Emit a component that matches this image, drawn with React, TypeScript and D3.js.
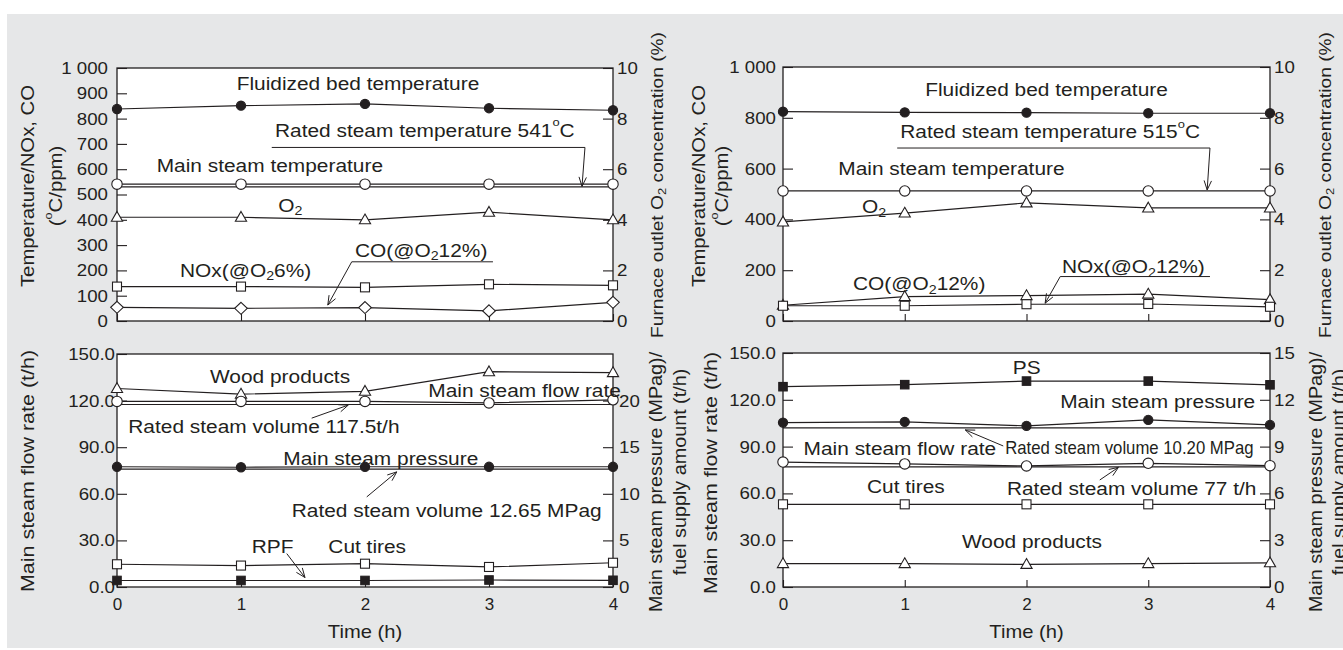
import React, { useRef, useEffect } from 'react';
import * as d3 from 'd3';

const INK = '#231f20';
const FONT = '"Liberation Sans", Arial, Helvetica, sans-serif';

const hours = [0, 1, 2, 3, 4];

// upper left: temperatures (degC), NOx/CO (ppm), O2 (%)
const tlBedTemp = [838, 851, 858, 841, 833];
const tlMainSteamTemp = [541, 541, 541, 541, 541];
const tlRatedSteamTemp = 530;
const tlO2 = [4.1, 4.1, 4.0, 4.3, 4.0];
const tlNOx = [136, 136, 133, 145, 141];
const tlCO = [54, 50, 53, 40, 74];

// upper right
const trBedTemp = [824, 821, 820, 818, 818];
const trMainSteamTemp = [512, 512, 512, 512, 512];
const trO2 = [3.9, 4.25, 4.65, 4.45, 4.45];
const trCO = [62, 96, 100, 106, 84];
const trNOx = [60, 60, 66, 67, 56];

// lower left: flow (t/h) on left axis, pressure (MPag) / fuel (t/h) on right axis
const blWood = [21.3, 20.7, 21.0, 23.1, 23.0];
const blFlow = [119.5, 119.5, 119.5, 118.5, 120.5];
const blRatedFlow = 117.5;
const blPressure = [12.9, 12.85, 12.9, 12.9, 12.9];
const blRatedPressure = 12.65;
const blCutTires = [2.44, 2.3, 2.5, 2.15, 2.6];
const blRPF = [0.7, 0.7, 0.7, 0.75, 0.72];

// lower right
const brPS = [12.84, 12.97, 13.2, 13.2, 12.96];
const brPressure = [10.54, 10.58, 10.33, 10.71, 10.39];
const brRatedPressure = 10.2;
const brFlow = [80.1, 78.9, 77.6, 79.3, 77.8];
const brRatedFlow = 77;
const brCutTires = [5.3, 5.3, 5.3, 5.3, 5.3];
const brWood = [1.5, 1.5, 1.45, 1.5, 1.55];

const fmtThousand = (v) => (v === 1000 ? '1 000' : String(v));
const fmtOne = d3.format('.1f');

const panels = [
  {
    box: { left: 117, right: 613, top: 68, bottom: 321 },
    leftMax: 1000, leftStep: 100, leftFmt: fmtThousand, leftPad: 9,
    rightMax: 10, rightStep: 2, rightLabelMax: 10, rightPad: 4,
    xLabels: false,
    refs: [{ value: tlRatedSteamTemp, axis: 'L' }],
    series: [
      { values: tlBedTemp, axis: 'L', marker: 'filledCircle' },
      { values: tlMainSteamTemp, axis: 'L', marker: 'openCircle' },
      { values: tlO2, axis: 'R', marker: 'openTriangle' },
      { values: tlNOx, axis: 'L', marker: 'openSquare' },
      { values: tlCO, axis: 'L', marker: 'openDiamond' },
    ],
    notes: [
      { text: 'Fluidized bed temperature', h: 0.965, v: 939 },
      { text: 'Rated steam temperature 541^{o}C', h: 1.274, v: 755 },
      { text: 'Main steam temperature', h: 0.32, v: 616 },
      { text: 'O_{2}', h: 1.3, v: 458 },
      { text: 'NOx(@O_{2}6%)', h: 0.508, v: 201 },
      { text: 'CO(@O_{2}12%)', h: 1.919, v: 280 },
    ],
    leaders: [
      [[1.248, 686], [3.774, 686], [3.75, 532]],
      [[3.032, 234], [1.893, 234], [1.7, 63]],
    ],
  },
  {
    box: { left: 783, right: 1270, top: 67, bottom: 321 },
    leftMax: 1000, leftStep: 200, leftFmt: fmtThousand, leftPad: 7,
    rightMax: 10, rightStep: 2, rightLabelMax: 10, rightPad: 4,
    xLabels: false,
    refs: [],
    series: [
      { values: trBedTemp, axis: 'L', marker: 'filledCircle' },
      { values: trMainSteamTemp, axis: 'L', marker: 'openCircle' },
      { values: trO2, axis: 'R', marker: 'openTriangle' },
      { values: trCO, axis: 'L', marker: 'openTriangle' },
      { values: trNOx, axis: 'L', marker: 'openSquare' },
    ],
    notes: [
      { text: 'Fluidized bed temperature', h: 1.168, v: 910 },
      { text: 'Rated steam temperature 515^{o}C', h: 0.963, v: 746 },
      { text: 'Main steam temperature', h: 0.454, v: 602 },
      { text: 'O_{2}', h: 0.649, v: 450 },
      { text: 'CO(@O_{2}12%)', h: 0.575, v: 148 },
      { text: 'NOx(@O_{2}12%)', h: 2.291, v: 214 },
    ],
    leaders: [
      [[0.938, 681], [3.507, 681], [3.484, 516]],
      [[3.507, 175], [2.277, 175], [2.153, 70]],
    ],
  },
  {
    box: { left: 117, right: 613, top: 354, bottom: 587 },
    leftMax: 150, leftStep: 30, leftFmt: fmtOne, leftPad: 2,
    rightMax: 25, rightStep: 5, rightLabelMax: 20, rightPad: 6,
    xLabels: true,
    refs: [{ value: blRatedFlow, axis: 'L' }, { value: blRatedPressure, axis: 'R' }],
    series: [
      { values: blWood, axis: 'R', marker: 'openTriangle' },
      { values: blFlow, axis: 'L', marker: 'openCircle' },
      { values: blPressure, axis: 'R', marker: 'filledCircle' },
      { values: blCutTires, axis: 'R', marker: 'openSquare' },
      { values: blRPF, axis: 'R', marker: 'filledSquare' },
    ],
    notes: [
      { text: 'Wood products', h: 0.75, v: 135.4 },
      { text: 'Main steam flow rate', h: 2.51, v: 126.8 },
      { text: 'Rated steam volume 117.5t/h', h: 0.091, v: 103.1 },
      { text: 'Main steam pressure', h: 1.341, v: 82.8 },
      { text: 'Rated steam volume 12.65 MPag', h: 1.409, v: 49.4 },
      { text: 'RPF', h: 1.086, v: 25.8 },
      { text: 'Cut tires', h: 1.704, v: 25.8 },
    ],
    leaders: [
      [[1.57, 108.7], [1.865, 117.1]],
      [[2.014, 58], [2.256, 74.1]],
      [[1.369, 21.5], [1.516, 6.1]],
    ],
  },
  {
    box: { left: 783, right: 1270, top: 353, bottom: 587 },
    leftMax: 150, leftStep: 30, leftFmt: fmtOne, leftPad: 7,
    rightMax: 15, rightStep: 3, rightLabelMax: 15, rightPad: 4,
    xLabels: true,
    refs: [{ value: brRatedPressure, axis: 'R' }, { value: brRatedFlow, axis: 'L' }],
    series: [
      { values: brPS, axis: 'R', marker: 'filledSquare' },
      { values: brPressure, axis: 'R', marker: 'filledCircle' },
      { values: brFlow, axis: 'L', marker: 'openCircle' },
      { values: brCutTires, axis: 'R', marker: 'openSquare' },
      { values: brWood, axis: 'R', marker: 'openTriangle' },
    ],
    notes: [
      { text: 'PS', h: 1.888, v: 141 },
      { text: 'Main steam pressure', h: 2.277, v: 118.9 },
      { text: 'Main steam flow rate', h: 0.169, v: 89 },
      { text: 'Rated steam volume 10.20 MPag', h: 1.825, v: 89, size: 18, sx: 0.93 },
      { text: 'Cut tires', h: 0.69, v: 64.3 },
      { text: 'Rated steam volume 77 t/h', h: 1.839, v: 63.3 },
      { text: 'Wood products', h: 1.47, v: 28.9 },
    ],
    leaders: [
      [[1.809, 90.4], [1.497, 100.7]],
      [[2.602, 68.6], [2.755, 76.7]],
    ],
  },
];

// axis titles: [text, x, y, size, rotated]
const titles = [
  ['Temperature/NOx, CO', 27, 186, 18],
  ['(^{o}C/ppm)', 55.5, 186, 18],
  ['Furnace outlet O_{2} concentration (%)', 657, 185, 17],
  ['Temperature/NOx, CO', 698, 186, 18],
  ['(^{o}C/ppm)', 721.5, 186, 18],
  ['Furnace outlet O_{2} concentration (%)', 1325, 185, 17],
  ['Main steam flow rate (t/h)', 27, 471, 19],
  ['Main steam pressure (MPag)/', 655, 482, 17.5],
  ['fuel supply amount (t/h)', 679.5, 472, 17.5],
  ['Main steam flow rate (t/h)', 710, 473, 19],
  ['Main steam pressure (MPag)/', 1315, 482, 17.5],
  ['fuel supply amount (t/h)', 1338, 472, 17.5],
];

// write text with _{sub} and ^{sup} parts
function rich(sel, str, size) {
  const tokens = str.split(/(_\{[^}]*\}|\^\{[^}]*\})/).filter(Boolean);
  let back = 0;
  tokens.forEach((tok) => {
    if (tok.startsWith('_{')) {
      sel.append('tspan').attr('font-size', size * 0.68).attr('dy', size * 0.3).text(tok.slice(2, -1));
      back = -size * 0.3;
    } else if (tok.startsWith('^{')) {
      sel.append('tspan').attr('font-size', size * 0.62).attr('dy', -size * 0.42).text(tok.slice(2, -1));
      back = size * 0.42;
    } else {
      const t = sel.append('tspan').text(tok);
      if (back) t.attr('dy', back);
      back = 0;
    }
  });
}

function drawMarker(g, type, cx, cy) {
  const open = type.startsWith('open');
  const fill = open ? '#fff' : INK;
  let el;
  if (type.endsWith('Circle')) {
    el = g.append('circle').attr('cx', cx).attr('cy', cy).attr('r', open ? 5.2 : 4.6);
  } else if (type.endsWith('Square')) {
    const s = open ? 9 : 8.5;
    el = g.append('rect').attr('x', cx - s / 2).attr('y', cy - s / 2).attr('width', s).attr('height', s);
  } else if (type.endsWith('Triangle')) {
    el = g.append('path').attr('d', `M${cx},${cy - 5.8}L${cx + 5.6},${cy + 4}L${cx - 5.6},${cy + 4}Z`);
  } else {
    el = g.append('path').attr('d', `M${cx},${cy - 6}L${cx + 6.3},${cy}L${cx},${cy + 6}L${cx - 6.3},${cy}Z`);
  }
  el.attr('fill', fill).attr('stroke', INK).attr('stroke-width', 1.1);
}

function drawPanel(svg, p) {
  const { left, right, top, bottom } = p.box;
  const x = d3.scaleLinear().domain([0, 4]).range([left, right]);
  const yL = d3.scaleLinear().domain([0, p.leftMax]).range([bottom, top]);
  const yR = d3.scaleLinear().domain([0, p.rightMax]).range([bottom, top]);
  const yOf = (axis) => (axis === 'R' ? yR : yL);

  const g = svg.append('g');
  g.append('rect')
    .attr('x', left).attr('y', top)
    .attr('width', right - left).attr('height', bottom - top)
    .attr('fill', '#fff');

  const styleAxis = (a, anchor) => {
    a.select('.domain').remove();
    a.attr('font-family', FONT).attr('font-size', 17);
    a.selectAll('line').attr('stroke', INK).attr('stroke-width', 1.1);
    a.selectAll('text').attr('fill', INK).attr('transform', 'scale(1.1,1)');
    if (anchor) a.selectAll('text').attr('text-anchor', anchor);
  };

  // Add left axis (ticks point inward)
  g.append('g')
    .attr('transform', `translate(${left},0)`)
    .call(d3.axisLeft(yL).tickValues(d3.range(0, p.leftMax + 1e-9, p.leftStep))
      .tickSizeInner(-10).tickSizeOuter(0).tickPadding(p.leftPad / 1.1).tickFormat(p.leftFmt))
    .call((a) => styleAxis(a));

  // Add right axis
  g.append('g')
    .attr('transform', `translate(${right},0)`)
    .call(d3.axisRight(yR).tickValues(d3.range(0, p.rightLabelMax + 1e-9, p.rightStep))
      .tickSizeInner(-10).tickSizeOuter(0).tickPadding(p.rightPad / 1.1).tickFormat(d3.format('d')))
    .call((a) => styleAxis(a));

  // Add x-axis
  g.append('g')
    .attr('transform', `translate(0,${bottom})`)
    .call(d3.axisBottom(x).tickValues(hours).tickSizeInner(-7).tickSizeOuter(0).tickPadding(11)
      .tickFormat(p.xLabels ? d3.format('d') : () => ''))
    .call((a) => styleAxis(a, 'middle'))
    .call((a) => a.selectAll('text').attr('transform', null));

  // frame
  g.append('rect')
    .attr('x', left).attr('y', top)
    .attr('width', right - left).attr('height', bottom - top)
    .attr('fill', 'none').attr('stroke', INK).attr('stroke-width', 1.3);

  // rated reference lines
  p.refs.forEach((r) => {
    const yy = yOf(r.axis)(r.value);
    g.append('line').attr('x1', left).attr('x2', right).attr('y1', yy).attr('y2', yy)
      .attr('stroke', INK).attr('stroke-width', 1.2);
  });

  // series lines, then markers on top
  const line = d3.line();
  p.series.forEach((s) => {
    const y = yOf(s.axis);
    g.append('path')
      .attr('d', line(s.values.map((v, i) => [x(hours[i]), y(v)])))
      .attr('fill', 'none').attr('stroke', INK).attr('stroke-width', 1.2);
  });
  p.series.forEach((s) => {
    const y = yOf(s.axis);
    s.values.forEach((v, i) => drawMarker(g, s.marker, x(hours[i]), y(v)));
  });

  // leader lines with open arrow heads
  p.leaders.forEach((pts) => {
    const px = pts.map(([h, v]) => [x(h), yL(v)]);
    g.append('path').attr('d', line(px)).attr('fill', 'none').attr('stroke', INK).attr('stroke-width', 1);
    const [x1, y1] = px[px.length - 2];
    const [x2, y2] = px[px.length - 1];
    const ang = Math.atan2(y2 - y1, x2 - x1);
    [-0.38, 0.38].forEach((d) => {
      g.append('line')
        .attr('x1', x2).attr('y1', y2)
        .attr('x2', x2 - 10 * Math.cos(ang + d)).attr('y2', y2 - 10 * Math.sin(ang + d))
        .attr('stroke', INK).attr('stroke-width', 1);
    });
  });

  // annotations
  p.notes.forEach((n) => {
    const size = n.size || 18.5;
    const t = g.append('text')
      .attr('transform', `translate(${x(n.h)},${yL(n.v)}) scale(${n.sx || 1.13},1)`)
      .attr('dominant-baseline', 'central')
      .attr('font-family', FONT).attr('font-size', size).attr('fill', INK)
      .style('white-space', 'pre');
    rich(t, n.text, size);
  });

  // x axis title
  if (p.xLabels) {
    g.append('text')
      .attr('transform', `translate(${(left + right) / 2},632) scale(1.12,1)`)
      .attr('text-anchor', 'middle').attr('dominant-baseline', 'central')
      .attr('font-family', FONT).attr('font-size', 18).attr('fill', INK)
      .text('Time (h)');
  }
}

const App = () => {
  const chartRef = useRef(null);

  useEffect(() => {
    const svg = d3.select(chartRef.current);
    svg.selectAll('*').remove();

    svg.append('rect').attr('x', 7).attr('y', 14).attr('width', 1336).attr('height', 634).attr('fill', '#e6e7e8');

    panels.forEach((p) => drawPanel(svg, p));

    titles.forEach(([text, tx, ty, size]) => {
      const t = svg.append('text')
        .attr('transform', `translate(${tx},${ty}) rotate(-90) scale(1.13,1)`)
        .attr('text-anchor', 'middle').attr('dominant-baseline', 'central')
        .attr('font-family', FONT).attr('font-size', size).attr('fill', INK)
        .style('white-space', 'pre');
      rich(t, text, size);
    });

    return () => {
      svg.selectAll('*').remove();
    };
  }, []);

  return (
    <svg
      ref={chartRef}
      width={1343}
      height={650}
      style={{ position: 'absolute', left: 0, top: 0, display: 'block', background: '#fff' }}
    />
  );
};

export default App;
